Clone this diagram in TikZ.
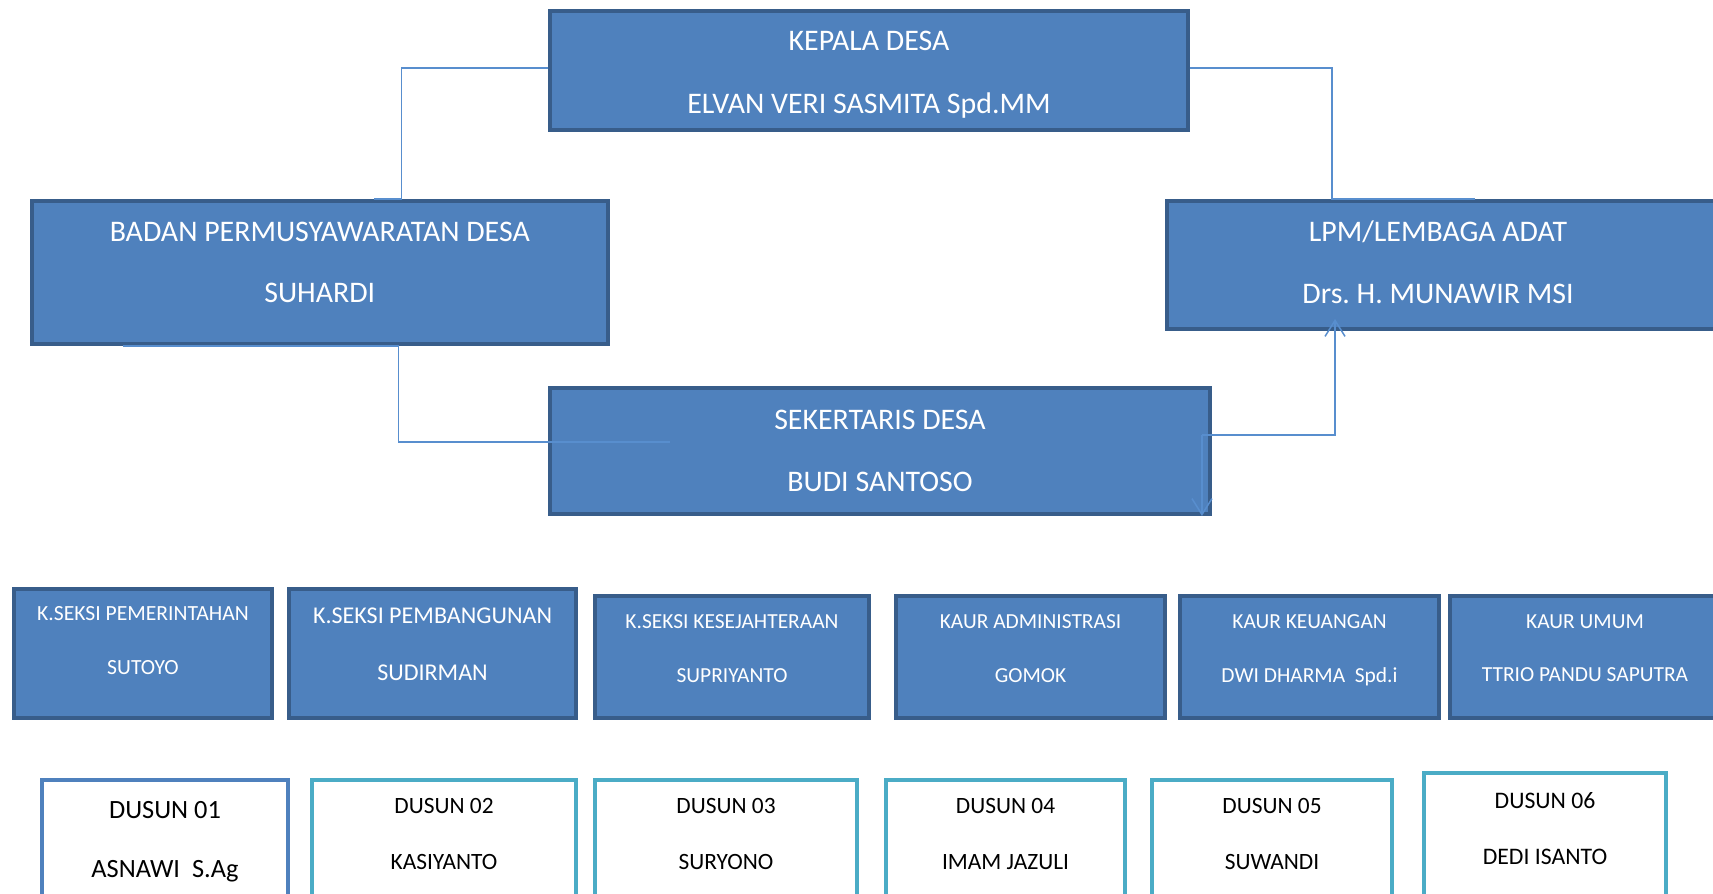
\documentclass[tikz,border=0pt]{standalone}
\usepackage{fontspec}
\setmainfont{Carlito}
\usepackage{tikz}
\usetikzlibrary{arrows.meta, positioning}
\definecolor{boxblue}{RGB}{79,129,189}
\definecolor{borderblue}{RGB}{56,93,138}
\definecolor{lineblue}{RGB}{88,142,206}
\definecolor{dusunteal}{RGB}{75,172,198}
\tikzstyle{bigbox} = [rectangle, draw=borderblue, line width=0.08cm, fill=boxblue, inner sep=0pt]
\tikzstyle{dusunbox} = [rectangle, draw=dusunteal, line width=0.08cm, fill=white, inner sep=0pt]
\tikzstyle{boxtext} = [align=center, inner sep=0pt, text=white]
\tikzstyle{dusuntext} = [align=center, inner sep=0pt, text=black]
\tikzstyle{conn} = [draw=lineblue, line width=0.03cm]
\tikzstyle{arrow} = [conn, -{Straight Barb[length=0.32cm, width=0.4cm]}]

\begin{document}
\begin{tikzpicture}[x=0.02cm, y=-0.02cm]
\useasboundingbox (0,0) rectangle (1713,893);

% Pimpinan
\node (kepala) [bigbox, minimum width=12.76cm, minimum height=2.38cm] at (869,70.5) {};
\node (kepalatxt) [boxtext, font=\fontsize{17}{36}\selectfont, below=0.43cm of kepala.north] {KEPALA DESA\\ELVAN VERI SASMITA Spd.MM};
\node (bpd) [bigbox, minimum width=11.53cm, minimum height=2.86cm] at (319.75,272.5) {};
\node (bpdtxt) [boxtext, font=\fontsize{17}{35}\selectfont, below=0.45cm of bpd.north] {BADAN PERMUSYAWARATAN DESA\\SUHARDI};
\node (lpm) [bigbox, minimum width=11cm, minimum height=2.56cm] at (1442,265) {};
\node (lpmtxt) [boxtext, font=\fontsize{17}{35}\selectfont, below=0.43cm of lpm.north, xshift=-0.08cm] {LPM/LEMBAGA ADAT\\Drs.\ H. MUNAWIR MSI};
\node (sek) [bigbox, minimum width=13.2cm, minimum height=2.52cm] at (880,451) {};
\node (sektxt) [boxtext, font=\fontsize{17}{35.5}\selectfont, below=0.47cm of sek.north] {SEKERTARIS DESA\\BUDI SANTOSO};

% Kasi dan Kaur
\node (pem) [bigbox, minimum width=5.16cm, minimum height=2.58cm] at (143,653.5) {};
\node (pemtxt) [boxtext, font=\fontsize{12.3}{30.7}\selectfont, below=0.38cm of pem.north] {K.SEKSI PEMERINTAHAN\\SUTOYO};
\node (bang) [bigbox, minimum width=5.74cm, minimum height=2.58cm] at (432.5,653.5) {};
\node (bangtxt) [boxtext, font=\fontsize{13.7}{32.3}\selectfont, below=0.41cm of bang.north] {K.SEKSI PEMBANGUNAN\\SUDIRMAN};
\node (kesra) [bigbox, minimum width=5.48cm, minimum height=2.44cm] at (732,657) {};
\node (kesratxt) [boxtext, font=\fontsize{12.2}{30.6}\selectfont, below=0.4cm of kesra.north] {K.SEKSI KESEJAHTERAAN\\SUPRIYANTO};
\node (adm) [bigbox, minimum width=5.38cm, minimum height=2.44cm] at (1030.5,657) {};
\node (admtxt) [boxtext, font=\fontsize{12.2}{30.6}\selectfont, below=0.4cm of adm.north] {KAUR ADMINISTRASI\\GOMOK};
\node (keu) [bigbox, minimum width=5.18cm, minimum height=2.44cm] at (1309.5,657) {};
\node (keutxt) [boxtext, font=\fontsize{12.2}{30.6}\selectfont, below=0.4cm of keu.north] {KAUR KEUANGAN\\DWI DHARMA~ Spd.i};
\node (umum) [bigbox, minimum width=5.4cm, minimum height=2.44cm] at (1585,657) {};
\node (umumtxt) [boxtext, font=\fontsize{12.2}{30.6}\selectfont, below=0.4cm of umum.north] {KAUR UMUM\\TTRIO PANDU SAPUTRA};

% Kepala dusun
\node (dsn1) [dusunbox, draw=boxblue, minimum width=4.92cm, minimum height=3cm] at (165,855) {};
\node (dsn1txt) [dusuntext, font=\fontsize{15}{33.5}\selectfont, below=0.455cm of dsn1.north] {DUSUN 01\\ASNAWI~ S.Ag};
\node (dsn2) [dusunbox, minimum width=5.28cm, minimum height=3cm] at (444,855) {};
\node (dsn2txt) [dusuntext, font=\fontsize{13.3}{32.3}\selectfont, below=0.39cm of dsn2.north] {DUSUN 02\\KASIYANTO};
\node (dsn3) [dusunbox, minimum width=5.24cm, minimum height=3cm] at (726,855) {};
\node (dsn3txt) [dusuntext, font=\fontsize{13.3}{32.3}\selectfont, below=0.39cm of dsn3.north] {DUSUN 03\\SURYONO};
\node (dsn4) [dusunbox, minimum width=4.78cm, minimum height=3cm] at (1005.5,855) {};
\node (dsn4txt) [dusuntext, font=\fontsize{13.3}{32.3}\selectfont, below=0.39cm of dsn4.north] {DUSUN 04\\IMAM JAZULI};
\node (dsn5) [dusunbox, minimum width=4.8cm, minimum height=3cm] at (1272,855) {};
\node (dsn5txt) [dusuntext, font=\fontsize{13.3}{32.3}\selectfont, below=0.39cm of dsn5.north] {DUSUN 05\\SUWANDI};
\node (dsn6) [dusunbox, minimum width=4.84cm, minimum height=3.14cm] at (1545,851.5) {};
\node (dsn6txt) [dusuntext, font=\fontsize{13.5}{31.6}\selectfont, below=0.43cm of dsn6.north] {DUSUN 06\\DEDI ISANTO};

% Garis
\draw [conn] ([yshift=0.05cm]kepala.west) -| ([xshift=1.64cm]bpd.north) -- ([xshift=1.09cm]bpd.north);
\draw [conn] ([yshift=0.05cm]kepala.east) -| ([xshift=-2.2cm]lpm.north) -- ([xshift=0.66cm]lpm.north);
\draw [conn] ([xshift=-3.93cm]bpd.south) -- ([xshift=1.58cm]bpd.south) |- ([xshift=2.44cm, yshift=0.18cm]sek.west);
\draw [arrow] ([xshift=-0.2cm, yshift=0.32cm]sek.east) -| ([xshift=-2.14cm, yshift=0.24cm]lpm.south);
\draw [arrow] ([xshift=-0.2cm, yshift=0.32cm]sek.east) -- ([xshift=-0.2cm]sek.south east);

\end{tikzpicture}
\end{document}
